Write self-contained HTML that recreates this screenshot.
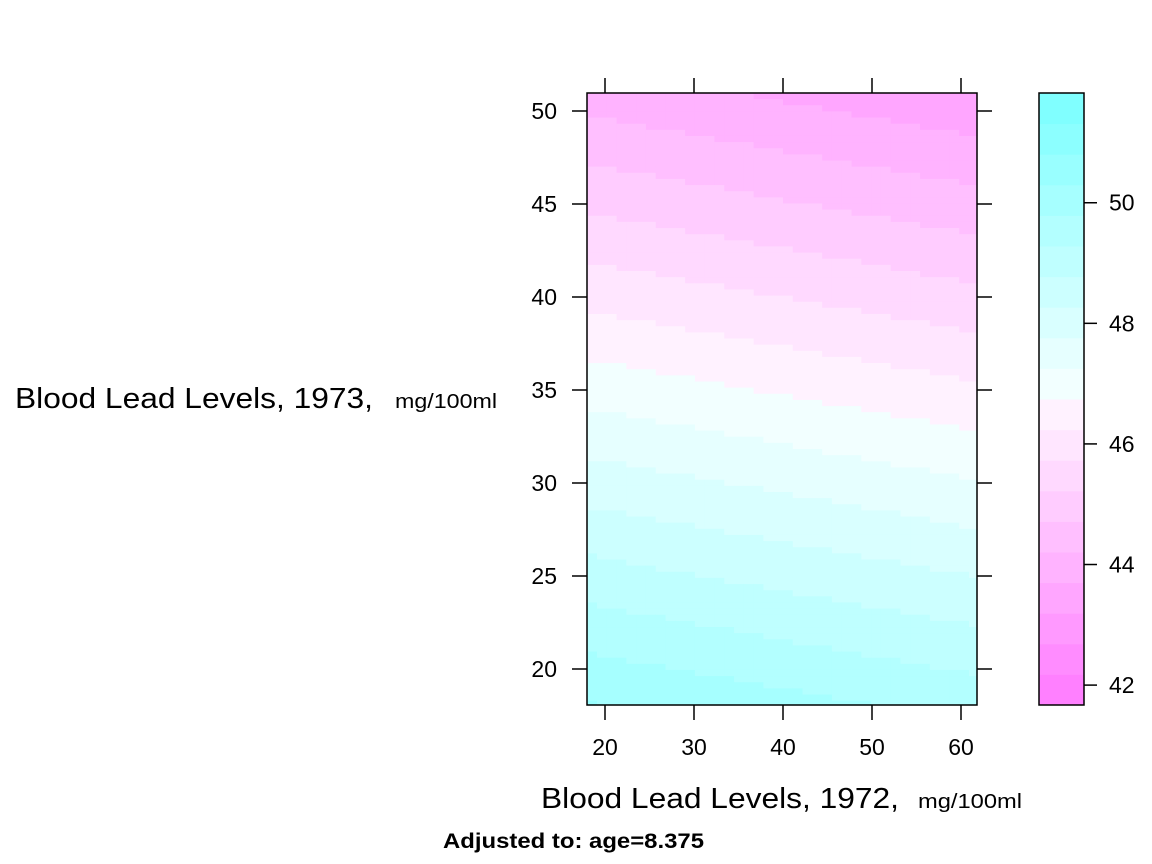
<!DOCTYPE html>
<html><head><meta charset="utf-8"><style>
body{margin:0;background:#fff;}
svg{display:block;font-family:"Liberation Sans",sans-serif;}
</style></head><body>
<svg id="chart" width="1152" height="864" viewBox="0 0 1152 864" xmlns="http://www.w3.org/2000/svg">
<g id="cells"></g>
<g id="bar"></g>
<g id="axes"></g>
<text x="15" y="408" font-size="29" textLength="358" lengthAdjust="spacingAndGlyphs">Blood Lead Levels, 1973,</text>
<text x="395" y="408" font-size="20" textLength="102" lengthAdjust="spacingAndGlyphs">mg/100ml</text>
<text x="541" y="808" font-size="29" textLength="358" lengthAdjust="spacingAndGlyphs">Blood Lead Levels, 1972,</text>
<text x="918" y="808" font-size="20" textLength="104" lengthAdjust="spacingAndGlyphs">mg/100ml</text>
<text x="443" y="848" font-size="21" font-weight="bold" textLength="261" lengthAdjust="spacingAndGlyphs">Adjusted to: age=8.375</text>
</svg>
<script>
const xTicks=[20,30,40,50,60];
const yTicks=[20,25,30,35,40,45,50];
const barTicks=[42,44,46,48,50];
const xRange=[18,62];
const yRange=[18,51];
const coef=[54.12,-0.0167,-0.193]; // fitted intercept, x slope, y slope
const zRange=[41.67,51.82];
const nBands=20;
const nGridX=40;
const nGridY=100;
const NS="http://www.w3.org/2000/svg";
const P={l:587,r:977,t:93,b:705};
const sx=v=>605+(v-20)*(961-605)/40;
const sy=v=>669-(v-20)*(669-111)/30;
const B={l:1039,r:1084,t:93,b:705};
const sz=v=>B.b-(v-zRange[0])*(B.b-B.t)/(zRange[1]-zRange[0]);
function col(i){
  if(i<10){const s=0.5-0.05*i;const g=Math.round(255*(1-s));return `rgb(255,${g},255)`;}
  const s=0.05+0.05*(i-10);const r=Math.round(255*(1-s));return `rgb(${r},255,255)`;
}
function mk(t,a,p){const e=document.createElementNS(NS,t);for(const k in a)e.setAttribute(k,a[k]);p.appendChild(e);return e;}
const cells=document.getElementById('cells');
const step=(zRange[1]-zRange[0])/nBands;
const dx=(xRange[1]-xRange[0])/nGridX, dy=(yRange[1]-yRange[0])/nGridY;
for(let i=0;i<nGridX;i++)for(let j=0;j<nGridY;j++){
  const x0=xRange[0]+i*dx, y0=yRange[0]+j*dy;
  const z=coef[0]+coef[1]*(x0+dx/2)+coef[2]*(y0+dy/2);
  let k=Math.floor((z-zRange[0])/step);k=Math.max(0,Math.min(nBands-1,k));
  const X1=Math.max(P.l,sx(x0)),X2=Math.min(P.r,sx(x0+dx));
  const Y1=Math.max(P.t,sy(y0+dy)),Y2=Math.min(P.b,sy(y0));
  const r=mk('rect',{x:X1,y:Y1,width:X2-X1+0.6,height:Y2-Y1+0.6,fill:col(k)},cells);
  
  
}
const ax=document.getElementById('axes');
mk('rect',{x:P.l,y:P.t,width:P.r-P.l,height:P.b-P.t,fill:'none',stroke:'#000','stroke-width':1.5},ax);
xTicks.forEach(v=>{
  mk('line',{x1:sx(v),x2:sx(v),y1:P.b,y2:P.b+15,stroke:'#000','stroke-width':1.5},ax);
  mk('line',{x1:sx(v),x2:sx(v),y1:P.t,y2:P.t-15,stroke:'#000','stroke-width':1.5},ax);
  const t=mk('text',{x:sx(v),y:755,'font-size':23,'text-anchor':'middle'},ax);t.textContent=v;
  
  
});
yTicks.forEach(v=>{
  mk('line',{x1:P.l,x2:P.l-15,y1:sy(v),y2:sy(v),stroke:'#000','stroke-width':1.5},ax);
  mk('line',{x1:P.r,x2:P.r+15,y1:sy(v),y2:sy(v),stroke:'#000','stroke-width':1.5},ax);
  const t=mk('text',{x:557,y:sy(v)+8,'font-size':23,'text-anchor':'end'},ax);t.textContent=v;
  
  
});
const bar=document.getElementById('bar');
for(let k=0;k<nBands;k++){
  const z0=zRange[0]+k*step;
  const r=mk('rect',{x:B.l,y:sz(z0+step),width:B.r-B.l,height:sz(z0)-sz(z0+step)+0.5,fill:col(k)},bar);
  
  
}
mk('rect',{x:B.l,y:B.t,width:B.r-B.l,height:B.b-B.t,fill:'none',stroke:'#000','stroke-width':1.5},bar);
barTicks.forEach(v=>{
  mk('line',{x1:B.r,x2:B.r+13,y1:sz(v),y2:sz(v),stroke:'#000','stroke-width':1.5},bar);
  const t=mk('text',{x:1109,y:sz(v)+8,'font-size':23},bar);t.textContent=v;
  
  
});
</script>
</body></html>
